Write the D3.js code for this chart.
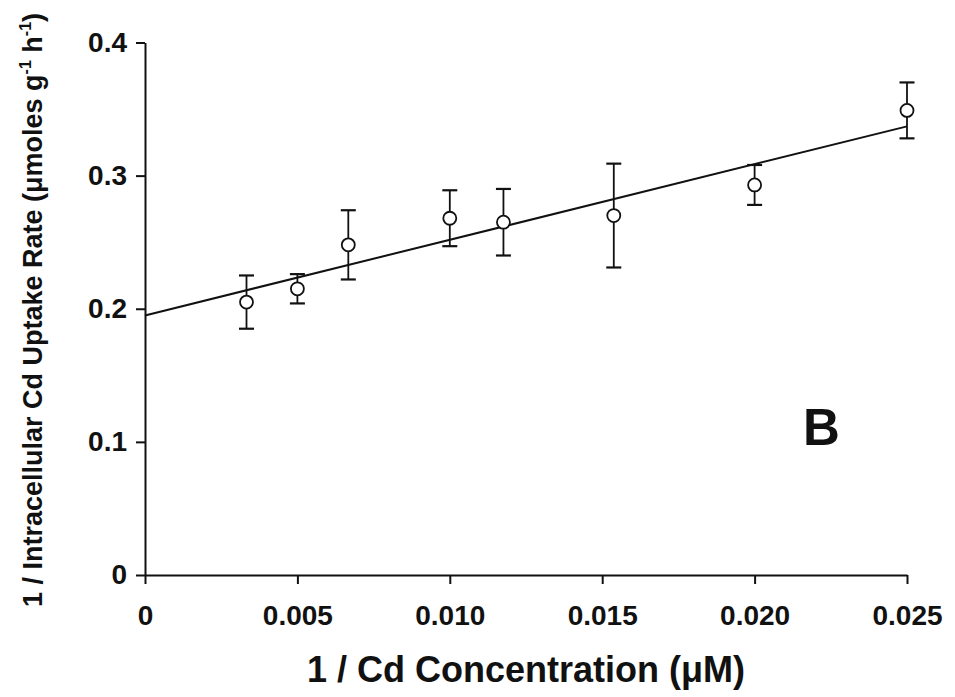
<!DOCTYPE html>
<html>
<head>
<meta charset="utf-8">
<script src="https://cdn.jsdelivr.net/npm/d3@7"></script>
<style>
  body { margin: 0; background: #fff; }
  svg { display: block; font-family: "Liberation Sans", Arial, sans-serif; font-weight: bold; }
  .axis path, .axis line { stroke: #111; stroke-width: 2; }
  .axis text { font-size: 28px; font-weight: bold; fill: #111; font-family: "Liberation Sans", Arial, sans-serif; }
</style>
</head>
<body>
<svg id="chart"></svg>
<script>
// 1 / Cd concentration (1/uM)
const invConc = [0.00333, 0.00500, 0.00667, 0.01000, 0.01176, 0.01538, 0.02000, 0.02500];
// 1 / intracellular Cd uptake rate
const invRate = [0.205, 0.215, 0.248, 0.268, 0.265, 0.270, 0.293, 0.349];
// error bar half-lengths
const rateErr = [0.020, 0.011, 0.026, 0.021, 0.025, 0.039, 0.015, 0.021];
// fitted regression line end points
const fitX = [0, 0.025];
const fitY = [0.195, 0.337];

const xTicks = [0, 0.005, 0.010, 0.015, 0.020, 0.025];
const yTicks = [0, 0.1, 0.2, 0.3, 0.4];

const width = 955, height = 697;

const svg = d3.select('#chart')
    .attr('width', width)
    .attr('height', height);

const x = d3.scaleLinear().domain([0, 0.025]).range([145, 907]);
const y = d3.scaleLinear().domain([0, 0.4]).range([575, 42.5]);

// Axes
const xAxis = d3.axisBottom(x)
    .tickValues(xTicks)
    .tickSize(9)
    .tickSizeOuter(0)
    .tickPadding(21)
    .tickFormat(d => d === 0 ? '0' : d3.format('.3f')(d));

const yAxis = d3.axisLeft(y)
    .tickValues(yTicks)
    .tickSize(9)
    .tickSizeOuter(0)
    .tickPadding(9)
    .tickFormat(d => d === 0 ? '0' : d3.format('.1f')(d));

svg.append('g')
    .attr('class', 'axis x-axis')
    .attr('transform', `translate(0,${y(0)})`)
    .call(xAxis);

svg.append('g')
    .attr('class', 'axis y-axis')
    .attr('transform', `translate(${x(0)},0)`)
    .call(yAxis);

// Regression line
const line = d3.line()
    .x(d => x(d[0]))
    .y(d => y(d[1]));

svg.append('path')
    .datum(fitX.map((v, i) => [v, fitY[i]]))
    .attr('d', line)
    .attr('fill', 'none')
    .attr('stroke', '#111')
    .attr('stroke-width', 2);

const points = invConc.map((v, i) => ({x: v, y: invRate[i], e: rateErr[i]}));

// Error bars
const bars = svg.append('g').selectAll('g')
    .data(points)
    .join('g');

bars.append('line')
    .attr('x1', d => x(d.x)).attr('x2', d => x(d.x))
    .attr('y1', d => y(d.y + d.e)).attr('y2', d => y(d.y - d.e))
    .attr('stroke', '#111').attr('stroke-width', 1.8);

bars.append('line')
    .attr('x1', d => x(d.x) - 7.5).attr('x2', d => x(d.x) + 7.5)
    .attr('y1', d => y(d.y + d.e)).attr('y2', d => y(d.y + d.e))
    .attr('stroke', '#111').attr('stroke-width', 2.2);

bars.append('line')
    .attr('x1', d => x(d.x) - 7.5).attr('x2', d => x(d.x) + 7.5)
    .attr('y1', d => y(d.y - d.e)).attr('y2', d => y(d.y - d.e))
    .attr('stroke', '#111').attr('stroke-width', 2.2);

// Open circles
svg.append('g').selectAll('circle')
    .data(points)
    .join('circle')
    .attr('cx', d => x(d.x))
    .attr('cy', d => y(d.y))
    .attr('r', 6.5)
    .attr('fill', '#fff')
    .attr('stroke', '#111')
    .attr('stroke-width', 1.8);

// Axis titles
svg.append('text')
    .attr('x', (x(0) + x(0.025)) / 2)
    .attr('y', 682)
    .attr('text-anchor', 'middle')
    .style('font-size', '36px')
    .attr('fill', '#111')
    .text('1 / Cd Concentration (\u03bcM)');

const yTitle = svg.append('text')
    .attr('transform', 'translate(42,310) rotate(-90)')
    .attr('text-anchor', 'middle')
    .style('font-size', '27px')
    .attr('fill', '#111');

yTitle.append('tspan').text('1 / Intracellular Cd Uptake Rate (\u03bcmoles g');
yTitle.append('tspan').attr('dy', -11).style('font-size', '16px').text('-1');
yTitle.append('tspan').attr('dy', 11).text(' h');
yTitle.append('tspan').attr('dy', -11).style('font-size', '16px').text('-1');
yTitle.append('tspan').attr('dy', 11).text(')');

// Panel label
svg.append('text')
    .attr('x', 803)
    .attr('y', 445)
    .style('font-size', '51px')
    .attr('fill', '#111')
    .text('B');
</script>
</body>
</html>
